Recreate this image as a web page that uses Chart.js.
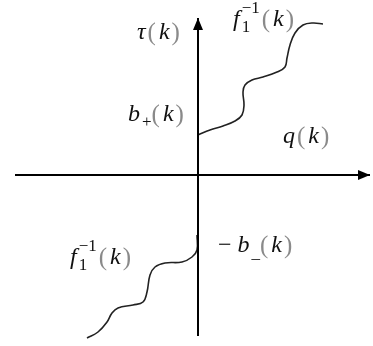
<!DOCTYPE html>
<html>
<head>
<meta charset="utf-8">
<script src="https://cdn.jsdelivr.net/npm/chart.js@4.4.0/dist/chart.umd.min.js"></script>
<style>
  html, body { margin: 0; padding: 0; background: #fff; }
  #plot { display: block; }
</style>
</head>
<body>
<canvas id="plot" width="373" height="346"></canvas>
<script>
// axis extents (origin at 0,0)
const qAxis = [{x: -183, y: 0}, {x: 172, y: 0}];
const tauAxis = [{x: 0, y: -161}, {x: 0, y: 157}];

// upper branch: starts at b+(k), climbs in steps to f1^-1(k)
const upperX = [0, 12, 25, 37, 44, 46, 45, 47, 54, 65, 79, 87, 89, 92, 97, 105, 115, 125];
const upperY = [40, 45, 49, 54, 60, 70, 83, 90, 95, 98, 103, 108, 117, 130, 142, 150, 152, 151];

// lower branch: starts at -b_(k), falls in steps to the lower left
const lowerX = [-1, -1, -6, -16, -33, -43, -48, -51, -55, -65, -80, -86, -91, -100, -111];
const lowerY = [-60, -75, -82, -87, -88, -92, -100, -117, -127, -130, -133, -138, -147, -157, -163];

// labels: anchor (left edge, vertical middle) and pieces
const labelX = [-61, 35, -70, 85, 20, -128];
const labelY = [142, 155, 60, 38, -71, -83];
const labelParts = [
    [['τ', 'i'], ['(', 'p'], ['k', 'i'], [')', 'p']],
    [['f', 'i'], ['1', 'sub'], ['−1', 'sup'], ['(', 'p'], ['k', 'i'], [')', 'p']],
    [['b', 'i'], ['+', 'sub'], ['(', 'p'], ['k', 'i'], [')', 'p']],
    [['q', 'i'], ['(', 'p'], ['k', 'i'], [')', 'p']],
    [['−', 'n'], [' ', 'n'], ['b', 'i'], ['_', 'sub'], ['(', 'p'], ['k', 'i'], [')', 'p']],
    [['f', 'i'], ['1', 'sub'], ['−1', 'sup'], ['(', 'p'], ['k', 'i'], [')', 'p']]
];

const SERIF = "'Times New Roman', 'Liberation Serif', 'DejaVu Serif', serif";

const toPoints = (xs, ys) => xs.map((x, i) => ({x: x, y: ys[i]}));

const arrowHeads = {
    id: 'arrowHeads',
    afterDatasetsDraw(chart) {
        const ctx = chart.ctx;
        const sx = chart.scales.x, sy = chart.scales.y;
        ctx.save();
        ctx.fillStyle = '#000';
        // right end of q axis
        let px = sx.getPixelForValue(qAxis[1].x), py = sy.getPixelForValue(0);
        ctx.beginPath();
        ctx.moveTo(px, py);
        ctx.lineTo(px - 12, py - 5);
        ctx.lineTo(px - 12, py + 5);
        ctx.closePath();
        ctx.fill();
        // top end of tau axis
        px = sx.getPixelForValue(0);
        py = sy.getPixelForValue(tauAxis[1].y);
        ctx.beginPath();
        ctx.moveTo(px, py);
        ctx.lineTo(px - 5, py + 12);
        ctx.lineTo(px + 5, py + 12);
        ctx.closePath();
        ctx.fill();
        ctx.restore();
    }
};

const mathLabels = {
    id: 'mathLabels',
    afterDatasetsDraw(chart) {
        const ctx = chart.ctx;
        const sx = chart.scales.x, sy = chart.scales.y;
        ctx.save();
        ctx.textBaseline = 'middle';
        labelParts.forEach((parts, i) => {
            let px = sx.getPixelForValue(labelX[i]);
            const py = sy.getPixelForValue(labelY[i]);
            let lastW = 0;
            parts.forEach(([txt, kind]) => {
                let font = 'italic 24px ' + SERIF, dy = 0, color = '#111', gap = 2;
                if (kind === 'p') { font = '25px ' + SERIF; color = '#8a8a8a'; gap = 3; }
                if (kind === 'n') { font = '24px ' + SERIF; gap = 0; }
                if (kind === 'sub') { font = '17px ' + SERIF; dy = 8; gap = 0; }
                if (kind === 'sup') { font = '17px ' + SERIF; dy = -11; px -= lastW; gap = 2; }
                ctx.font = font;
                ctx.fillStyle = color;
                ctx.fillText(txt, px, py + dy);
                const w = ctx.measureText(txt).width;
                if (kind === 'sup') { px += Math.max(w, lastW) + gap; } else { px += w + gap; }
                lastW = kind === 'sub' ? w : 0;
            });
        });
        ctx.restore();
    }
};

new Chart(document.getElementById('plot'), {
    type: 'scatter',
    data: {
        datasets: [
            {data: qAxis, showLine: true, borderColor: '#000', borderWidth: 2, pointRadius: 0},
            {data: tauAxis, showLine: true, borderColor: '#000', borderWidth: 2, pointRadius: 0},
            {data: toPoints(upperX, upperY), showLine: true, borderColor: '#222', borderWidth: 1.6, pointRadius: 0, tension: 0.4},
            {data: toPoints(lowerX, lowerY), showLine: true, borderColor: '#222', borderWidth: 1.6, pointRadius: 0, tension: 0.4}
        ]
    },
    options: {
        responsive: false,
        animation: false,
        layout: {padding: 0},
        scales: {
            x: {type: 'linear', min: -198, max: 175, display: false},
            y: {type: 'linear', min: -171, max: 175, display: false}
        },
        plugins: {
            legend: {display: false},
            tooltip: {enabled: false}
        }
    },
    plugins: [arrowHeads, mathLabels]
});
</script>
</body>
</html>
